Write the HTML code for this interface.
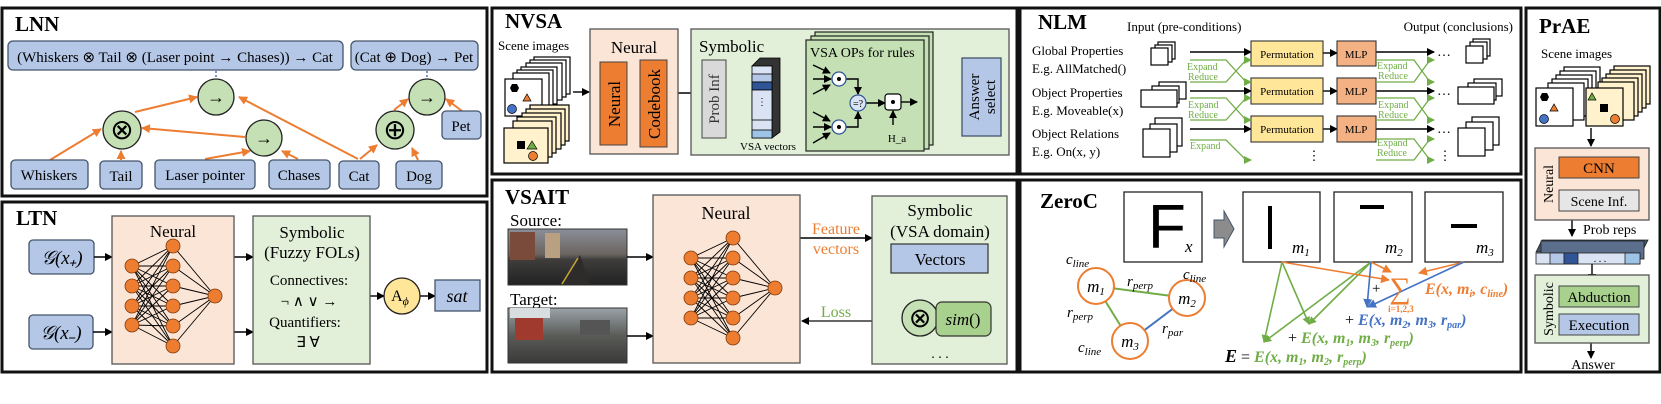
<!DOCTYPE html>
<html><head><meta charset="utf-8"><style>
html,body{margin:0;padding:0;background:#fff;}
svg{display:block;font-family:"Liberation Serif",serif;}
.t{font-weight:bold;font-size:21px;}
.bb{fill:#b4c7e7;stroke:#44546a;stroke-width:1.3;}
.gc{fill:#c5e0b4;stroke:#222;stroke-width:1.3;}
.oa{stroke:#ed7d31;stroke-width:2;fill:none;}
.ka{stroke:#000;stroke-width:1.4;fill:none;}
.ga{stroke:#70ad47;stroke-width:1.3;fill:none;}
.nn{stroke:#000;stroke-width:0.9;fill:none;}
.nd{fill:#ed7d31;stroke:#843c0c;stroke-width:0.8;}
.card{fill:#fff;stroke:#000;stroke-width:1.2;}
.ccard{fill:#fff2cc;stroke:#000;stroke-width:1.2;}
.it{font-style:italic;}
</style></head><body>
<svg width="1661" height="404" viewBox="0 0 1661 404" xmlns="http://www.w3.org/2000/svg">
<defs>
<marker id="ak" markerWidth="8" markerHeight="8" refX="7" refY="4" orient="auto" markerUnits="userSpaceOnUse"><path d="M0,0L8,4L0,8z" fill="#000"/></marker>
<marker id="ao" markerWidth="9" markerHeight="9" refX="8" refY="4.5" orient="auto" markerUnits="userSpaceOnUse"><path d="M0,0L9,4.5L0,9z" fill="#ed7d31"/></marker>
<marker id="ag" markerWidth="8" markerHeight="8" refX="7" refY="4" orient="auto" markerUnits="userSpaceOnUse"><path d="M0,0L8,4L0,8z" fill="#70ad47"/></marker>
<marker id="ab" markerWidth="9" markerHeight="9" refX="8" refY="4.5" orient="auto" markerUnits="userSpaceOnUse"><path d="M0,0L9,4.5L0,9z" fill="#4472c4"/></marker>
</defs>

<!-- panel borders -->
<g fill="none" stroke="#111" stroke-width="3">
<rect x="2" y="8" width="485" height="188"/>
<rect x="2" y="202" width="485" height="170"/>
<rect x="492" y="8" width="525" height="166"/>
<rect x="492" y="180" width="525" height="192"/>
<rect x="1020" y="8" width="501" height="166"/>
<rect x="1020" y="180" width="501" height="192"/>
<rect x="1526" y="8" width="134" height="364"/>
</g>

<!-- ===== LNN ===== -->
<text x="15" y="31" class="t">LNN</text>
<rect x="8" y="41" width="335" height="29" rx="5" class="bb"/>
<text x="175" y="62" font-size="15" text-anchor="middle">(Whiskers ⊗ Tail ⊗ (Laser point → Chases)) → Cat</text>
<rect x="351" y="41" width="127" height="29" rx="5" class="bb"/>
<text x="414" y="62" font-size="15" text-anchor="middle">(Cat ⊕ Dog) → Pet</text>
<g stroke="#4472c4" stroke-width="1.5" stroke-dasharray="2,2"><line x1="216" y1="71" x2="216" y2="79"/><line x1="427" y1="71" x2="427" y2="79"/></g>
<g class="oa">
<line x1="50" y1="160" x2="101" y2="129" marker-end="url(#ao)"/>
<line x1="121" y1="160" x2="121" y2="151" marker-end="url(#ao)"/>
<line x1="135" y1="112" x2="197" y2="97" marker-end="url(#ao)"/>
<line x1="205" y1="159" x2="250" y2="151" marker-end="url(#ao)"/>
<line x1="298" y1="159" x2="282" y2="151" marker-end="url(#ao)"/>
<line x1="245" y1="137" x2="142" y2="128" marker-end="url(#ao)"/>
<line x1="358" y1="159" x2="239" y2="97" marker-end="url(#ao)"/>
<line x1="360" y1="159" x2="377" y2="145" marker-end="url(#ao)"/>
<line x1="418" y1="160" x2="412" y2="148" marker-end="url(#ao)"/>
<line x1="394" y1="110" x2="408" y2="99" marker-end="url(#ao)"/>
<line x1="462" y1="111" x2="446" y2="99" marker-end="url(#ao)"/>
</g>
<circle cx="216" cy="97" r="18" class="gc"/><text x="216" y="103" font-size="18" text-anchor="middle">→</text>
<circle cx="122" cy="130" r="19" class="gc"/><text x="122" y="139" font-size="28" text-anchor="middle">⊗</text>
<circle cx="264" cy="138" r="18" class="gc"/><text x="264" y="144" font-size="18" text-anchor="middle">→</text>
<circle cx="395" cy="130" r="19" class="gc"/><text x="395" y="139" font-size="28" text-anchor="middle">⊕</text>
<circle cx="427" cy="97" r="18" class="gc"/><text x="427" y="103" font-size="18" text-anchor="middle">→</text>
<g font-size="15" text-anchor="middle">
<rect x="11" y="160" width="77" height="29" rx="4" class="bb"/><text x="49" y="180">Whiskers</text>
<rect x="100" y="161" width="42" height="28" rx="4" class="bb"/><text x="121" y="181">Tail</text>
<rect x="155" y="160" width="100" height="29" rx="4" class="bb"/><text x="205" y="180">Laser pointer</text>
<rect x="269" y="160" width="61" height="29" rx="4" class="bb"/><text x="299" y="180">Chases</text>
<rect x="339" y="161" width="40" height="28" rx="4" class="bb"/><text x="359" y="181">Cat</text>
<rect x="396" y="161" width="46" height="28" rx="4" class="bb"/><text x="419" y="181">Dog</text>
<rect x="442" y="111" width="39" height="28" rx="4" class="bb"/><text x="461" y="131">Pet</text>
</g>

<!-- ===== LTN ===== -->
<text x="16" y="225" class="t">LTN</text>
<rect x="29" y="240" width="65" height="34" rx="4" class="bb"/>
<text x="62" y="264" font-size="19" text-anchor="middle" class="it">𝒢(x₊)</text>
<rect x="29" y="315" width="64" height="34" rx="4" class="bb"/>
<text x="61" y="339" font-size="19" text-anchor="middle" class="it">𝒢(x₋)</text>
<g class="ka"><line x1="94" y1="257" x2="112" y2="257" marker-end="url(#ak)"/><line x1="93" y1="332" x2="112" y2="332" marker-end="url(#ak)"/>
<line x1="234" y1="257" x2="253" y2="257" marker-end="url(#ak)"/><line x1="234" y1="332" x2="253" y2="332" marker-end="url(#ak)"/>
<line x1="370" y1="296" x2="384" y2="296" marker-end="url(#ak)"/><line x1="420" y1="296" x2="435" y2="296" marker-end="url(#ak)"/></g>
<rect x="112" y="216" width="122" height="148" fill="#fbe5d6" stroke="#555" stroke-width="1.3"/>
<text x="173" y="237" font-size="17" text-anchor="middle">Neural</text>
<path class="nn" d="M132 266L173 246M132 266L173 266M132 266L173 286M132 266L173 306M132 266L173 326M132 266L173 346M132 286L173 246M132 286L173 266M132 286L173 286M132 286L173 306M132 286L173 326M132 286L173 346M132 306L173 246M132 306L173 266M132 306L173 286M132 306L173 306M132 306L173 326M132 306L173 346M132 325L173 246M132 325L173 266M132 325L173 286M132 325L173 306M132 325L173 326M132 325L173 346M173 246L215 296M173 266L215 296M173 286L215 296M173 306L215 296M173 326L215 296M173 346L215 296"/>
<g class="nd"><circle cx="132" cy="266" r="7"/><circle cx="132" cy="286" r="7"/><circle cx="132" cy="306" r="7"/><circle cx="132" cy="325" r="7"/>
<circle cx="173" cy="246" r="7"/><circle cx="173" cy="266" r="7"/><circle cx="173" cy="286" r="7"/><circle cx="173" cy="306" r="7"/><circle cx="173" cy="326" r="7"/><circle cx="173" cy="346" r="7"/><circle cx="215" cy="296" r="7"/></g>
<rect x="253" y="216" width="117" height="148" fill="#e2f0d9" stroke="#555" stroke-width="1.3"/>
<g font-size="17" text-anchor="middle"><text x="312" y="238">Symbolic</text><text x="312" y="258">(Fuzzy FOLs)</text></g>
<g font-size="15" text-anchor="middle"><text x="309" y="285">Connectives:</text><text x="309" y="306">¬  ∧  ∨  →</text><text x="305" y="327">Quantifiers:</text><text x="308" y="347">∃ ∀</text></g>
<circle cx="402" cy="296" r="18" fill="#ffe699" stroke="#222" stroke-width="1.3"/>
<text x="400" y="301" font-size="16" text-anchor="middle">A<tspan font-size="12" dy="4" class="it">ϕ</tspan></text>
<rect x="435" y="280" width="45" height="31" class="bb"/>
<text x="457" y="302" font-size="18" text-anchor="middle" class="it">sat</text>

<!-- ===== NVSA ===== -->
<text x="505" y="28" class="t">NVSA</text>
<text x="498" y="50" font-size="13">Scene images</text>
<g>
<rect x="534" y="57" width="36" height="37" class="card"/><rect x="530" y="60" width="36" height="37" class="card"/><rect x="526" y="63" width="36" height="37" class="card"/><rect x="521" y="67" width="36" height="37" class="card"/><rect x="517" y="70" width="36" height="37" class="card"/><rect x="513" y="73" width="36" height="37" class="card"/><rect x="505" y="79" width="37" height="37" class="card"/>
<polygon points="512,84 517,84 519,88 517,92 512,92 510,88" fill="#000"/><polygon points="523,101 527,94 531,101" fill="#ed7d31" stroke="#000" stroke-width="0.7"/><circle cx="512" cy="109" r="4.5" fill="#4472c4" stroke="#000" stroke-width="0.7"/>
<rect x="530" y="105" width="39" height="36" class="ccard"/><rect x="526" y="109" width="39" height="36" class="ccard"/><rect x="522" y="113" width="39" height="36" class="ccard"/><rect x="517" y="117" width="39" height="36" class="ccard"/><rect x="513" y="121" width="39" height="36" class="ccard"/><rect x="504" y="128" width="44" height="35" class="ccard"/>
<rect x="517" y="141" width="8" height="8" fill="#000"/><polygon points="527,149 532,141 537,149" fill="#70ad47" stroke="#000" stroke-width="0.7"/><circle cx="533" cy="156" r="4.5" fill="#ed7d31" stroke="#000" stroke-width="0.7"/>
</g>
<g class="ka"><line x1="573" y1="92" x2="589" y2="92" marker-end="url(#ak)"/><line x1="672" y1="93" x2="699" y2="93" marker-end="url(#ak)"/>
<line x1="731" y1="95" x2="746" y2="95" marker-end="url(#ak)"/><line x1="786" y1="95" x2="800" y2="95" marker-end="url(#ak)"/><line x1="932" y1="95" x2="958" y2="95" marker-end="url(#ak)"/></g>
<rect x="590" y="29" width="88" height="125" fill="#fbe5d6" stroke="#555" stroke-width="1.3"/>
<text x="634" y="53" font-size="17" text-anchor="middle">Neural</text>
<rect x="600" y="62" width="27" height="83" fill="#ed7d31" stroke="#444" stroke-width="1"/>
<text transform="translate(620,104) rotate(-90)" font-size="17" text-anchor="middle">Neural</text>
<rect x="640" y="60" width="27" height="87" fill="#ed7d31" stroke="#444" stroke-width="1"/>
<text transform="translate(660,104) rotate(-90)" font-size="17" text-anchor="middle">Codebook</text>
<rect x="691" y="29" width="318" height="126" fill="#e2f0d9" stroke="#555" stroke-width="1.3"/>
<text x="699" y="52" font-size="17">Symbolic</text>
<rect x="702" y="60" width="24" height="78" fill="#d9d9d9" stroke="#444" stroke-width="1"/>
<text transform="translate(719,99) rotate(-90)" font-size="15" text-anchor="middle" fill="#333">Prob Inf</text>
<g stroke="#000" stroke-width="0.8">
<polygon points="752,66 760,58 780,58 780,132 772,138 772,66" fill="#333"/>
<rect x="752" y="66" width="20" height="72" fill="#dae3f3"/>
<rect x="752" y="74" width="20" height="8" fill="#b4c7e7"/><rect x="752" y="82" width="20" height="8" fill="#2f5597"/><rect x="752" y="90" width="20" height="30" fill="#dae3f3"/><rect x="752" y="130" width="20" height="8" fill="#9dc3e6"/>
</g>
<text x="762" y="105" font-size="10" text-anchor="middle">⋮</text>
<text x="740" y="150" font-size="11">VSA vectors</text>
<rect x="815" y="32" width="118" height="113" fill="#c5e0b4" stroke="#222" stroke-width="1.2"/>
<rect x="811" y="36" width="118" height="113" fill="#c5e0b4" stroke="#222" stroke-width="1.2"/>
<rect x="806" y="40" width="118" height="111" fill="#c5e0b4" stroke="#222" stroke-width="1.2"/>
<text x="810" y="57" font-size="14">VSA OPs for rules</text>
<g class="ka" stroke-width="1.1">
<path d="M813 65L830 73" marker-end="url(#ak)"/><path d="M813 79L831 79" marker-end="url(#ak)"/><path d="M813 94L830 85" marker-end="url(#ak)"/>
<path d="M813 112L830 121" marker-end="url(#ak)"/><path d="M813 127L831 127" marker-end="url(#ak)"/><path d="M813 143L830 133" marker-end="url(#ak)"/>
<path d="M846 79L858 79L858 94" marker-end="url(#ak)"/><path d="M846 127L858 127L858 112" marker-end="url(#ak)"/>
<path d="M866 103L885 103" marker-end="url(#ak)"/><path d="M901 102L917 102" marker-end="url(#ak)"/><path d="M893 125L893 111" marker-end="url(#ak)"/>
</g>
<circle cx="839" cy="79" r="7" fill="#fff" stroke="#2f5597" stroke-width="1.3"/><circle cx="839" cy="79" r="2" fill="#000"/>
<circle cx="839" cy="127" r="7" fill="#fff" stroke="#2f5597" stroke-width="1.3"/><circle cx="839" cy="127" r="2" fill="#000"/>
<circle cx="858" cy="103" r="8" fill="#dae3f3" stroke="#2f5597" stroke-width="1.2"/><text x="858" y="107" font-size="10" text-anchor="middle">=?</text>
<rect x="885" y="94" width="16" height="16" rx="3" fill="#fff" stroke="#000" stroke-width="1.2"/><circle cx="893" cy="102" r="2" fill="#000"/>
<text x="897" y="142" font-size="11" text-anchor="middle">H_a</text>
<rect x="962" y="58" width="39" height="78" fill="#b4c7e7" stroke="#44546a" stroke-width="1.3"/>
<text transform="translate(979,97) rotate(-90)" font-size="15" text-anchor="middle">Answer</text>
<text transform="translate(995,97) rotate(-90)" font-size="15" text-anchor="middle">select</text>

<!-- ===== VSAIT ===== -->
<text x="505" y="204" class="t">VSAIT</text>
<text x="510" y="226" font-size="17">Source:</text>
<text x="510" y="305" font-size="17">Target:</text>
<defs>
<linearGradient id="ph1" x1="0" y1="0" x2="0" y2="1"><stop offset="0" stop-color="#8a8f99"/><stop offset="0.45" stop-color="#6b6560"/><stop offset="0.55" stop-color="#3e3d3c"/><stop offset="1" stop-color="#222"/></linearGradient>
<linearGradient id="ph2" x1="0" y1="0" x2="0" y2="1"><stop offset="0" stop-color="#9aa3a8"/><stop offset="0.5" stop-color="#5a5c58"/><stop offset="1" stop-color="#3a3a38"/></linearGradient>
</defs>
<rect x="508" y="229" width="119" height="56" fill="url(#ph1)" stroke="#333"/>
<rect x="510" y="232" width="25" height="28" fill="#7a4a3a"/><rect x="545" y="233" width="15" height="25" fill="#b9a080"/><path d="M560 285L580 255L590 285" fill="#2d2c2a"/><path d="M562 284L578 258" stroke="#c9a636" stroke-width="1.5"/>
<rect x="508" y="308" width="119" height="55" fill="url(#ph2)" stroke="#333"/>
<rect x="515" y="318" width="28" height="22" fill="#a03a2e"/><rect x="510" y="308" width="40" height="10" fill="#d8dde0"/><rect x="580" y="320" width="30" height="15" fill="#555"/>
<g class="ka"><line x1="627" y1="257" x2="653" y2="257" marker-end="url(#ak)"/><line x1="627" y1="336" x2="653" y2="336" marker-end="url(#ak)"/>
<line x1="800" y1="238" x2="872" y2="238" marker-end="url(#ak)"/><line x1="872" y1="321" x2="802" y2="321" marker-end="url(#ak)" stroke="#333"/>
<line x1="941" y1="280" x2="941" y2="297" marker-end="url(#ak)"/></g>
<rect x="653" y="195" width="147" height="168" fill="#fbe5d6" stroke="#555" stroke-width="1.3"/>
<text x="726" y="219" font-size="18" text-anchor="middle">Neural</text>
<path class="nn" d="M691 258L733 238M691 258L733 258M691 258L733 278M691 258L733 298M691 258L733 318M691 258L733 338M691 278L733 238M691 278L733 258M691 278L733 278M691 278L733 298M691 278L733 318M691 278L733 338M691 298L733 238M691 298L733 258M691 298L733 278M691 298L733 298M691 298L733 318M691 298L733 338M691 318L733 238M691 318L733 258M691 318L733 278M691 318L733 298M691 318L733 318M691 318L733 338M733 238L775 288M733 258L775 288M733 278L775 288M733 298L775 288M733 318L775 288M733 338L775 288"/>
<g class="nd"><circle cx="691" cy="258" r="7"/><circle cx="691" cy="278" r="7"/><circle cx="691" cy="298" r="7"/><circle cx="691" cy="318" r="7"/>
<circle cx="733" cy="238" r="7"/><circle cx="733" cy="258" r="7"/><circle cx="733" cy="278" r="7"/><circle cx="733" cy="298" r="7"/><circle cx="733" cy="318" r="7"/><circle cx="733" cy="338" r="7"/><circle cx="775" cy="288" r="7"/></g>
<text x="836" y="234" font-size="16" fill="#ed7d31" text-anchor="middle">Feature</text>
<text x="836" y="254" font-size="16" fill="#ed7d31" text-anchor="middle">vectors</text>
<text x="836" y="317" font-size="16" fill="#70ad47" text-anchor="middle">Loss</text>
<rect x="872" y="196" width="135" height="168" fill="#e2f0d9" stroke="#555" stroke-width="1.3"/>
<g font-size="17" text-anchor="middle"><text x="940" y="216">Symbolic</text><text x="940" y="237">(VSA domain)</text></g>
<rect x="891" y="244" width="97" height="29" fill="#b4c7e7" stroke="#333" stroke-width="1.2"/>
<text x="940" y="265" font-size="17" text-anchor="middle">Vectors</text>
<circle cx="920" cy="318" r="18" class="gc"/><text x="920" y="327" font-size="27" text-anchor="middle">⊗</text>
<rect x="936" y="302" width="55" height="34" rx="6" fill="#a9d18e" stroke="#333" stroke-width="1.2"/>
<text x="963" y="325" font-size="17" text-anchor="middle"><tspan class="it">sim</tspan>()</text>
<text x="940" y="358" font-size="14" text-anchor="middle">. . .</text>

<!-- ===== NLM ===== -->
<text x="1038" y="29" class="t">NLM</text>
<text x="1127" y="31" font-size="13">Input (pre-conditions)</text>
<text x="1513" y="31" font-size="13" text-anchor="end">Output (conclusions)</text>
<g font-size="13"><text x="1032" y="55">Global Properties</text><text x="1032" y="73">E.g. AllMatched()</text>
<text x="1032" y="97">Object Properties</text><text x="1032" y="115">E.g. Moveable(x)</text>
<text x="1032" y="138">Object Relations</text><text x="1032" y="156">E.g. On(x, y)</text></g>
<g class="card">
<rect x="1158" y="42" width="17" height="17"/><rect x="1155" y="45" width="17" height="17"/><rect x="1151" y="48" width="17" height="17"/>
<rect x="1159" y="82" width="27" height="17"/><rect x="1152" y="86" width="27" height="17"/><rect x="1141" y="90" width="36" height="17"/>
<rect x="1155" y="118" width="27" height="28"/><rect x="1150" y="124" width="27" height="28"/><rect x="1143" y="129" width="27" height="28"/>
<rect x="1473" y="39" width="17" height="17"/><rect x="1470" y="42" width="17" height="17"/><rect x="1466" y="46" width="17" height="17"/>
<rect x="1474" y="79" width="28" height="17"/><rect x="1468" y="83" width="28" height="17"/><rect x="1458" y="87" width="36" height="17"/>
<rect x="1472" y="117" width="27" height="28"/><rect x="1466" y="122" width="27" height="28"/><rect x="1458" y="128" width="27" height="28"/>
</g>
<g class="ka"><line x1="1190" y1="52" x2="1251" y2="52" marker-end="url(#ak)"/><line x1="1190" y1="91" x2="1251" y2="91" marker-end="url(#ak)"/><line x1="1190" y1="129" x2="1251" y2="129" marker-end="url(#ak)"/>
<line x1="1323" y1="53" x2="1337" y2="53" marker-end="url(#ak)"/><line x1="1323" y1="91" x2="1337" y2="91" marker-end="url(#ak)"/><line x1="1323" y1="129" x2="1337" y2="129" marker-end="url(#ak)"/>
<line x1="1376" y1="52" x2="1434" y2="52" marker-end="url(#ak)"/><line x1="1376" y1="91" x2="1434" y2="91" marker-end="url(#ak)"/><line x1="1376" y1="129" x2="1434" y2="129" marker-end="url(#ak)"/></g>
<g font-size="14"><text x="1437" y="56">…</text><text x="1437" y="95">…</text><text x="1437" y="133">…</text></g>
<g fill="#ffe699" stroke="#333" stroke-width="1.1"><rect x="1251" y="41" width="72" height="25"/><rect x="1251" y="78" width="72" height="26"/><rect x="1251" y="116" width="72" height="26"/></g>
<g fill="#f4b183" stroke="#333" stroke-width="1.1"><rect x="1337" y="41" width="39" height="25"/><rect x="1337" y="78" width="39" height="26"/><rect x="1337" y="116" width="39" height="26"/></g>
<g font-size="11" text-anchor="middle"><text x="1287" y="58">Permutation</text><text x="1287" y="95">Permutation</text><text x="1287" y="133">Permutation</text>
<text x="1356" y="58">MLP</text><text x="1356" y="95">MLP</text><text x="1356" y="133">MLP</text></g>
<g class="ga">
<path d="M1190 60L1226 60L1246 82L1251 82" marker-end="url(#ag)"/><path d="M1190 82L1226 82L1246 60L1251 60" marker-end="url(#ag)"/>
<path d="M1190 98L1226 98L1246 120L1251 120" marker-end="url(#ag)"/><path d="M1190 120L1226 120L1246 98L1251 98" marker-end="url(#ag)"/>
<path d="M1190 140L1226 140L1246 160L1251 160" marker-end="url(#ag)"/>
<path d="M1376 60L1414 60L1430 82L1434 82" marker-end="url(#ag)"/><path d="M1376 82L1414 82L1430 60L1434 60" marker-end="url(#ag)"/>
<path d="M1376 98L1414 98L1430 120L1434 120" marker-end="url(#ag)"/><path d="M1376 120L1414 120L1430 98L1434 98" marker-end="url(#ag)"/>
<path d="M1376 139L1414 139L1430 160L1434 160" marker-end="url(#ag)"/><path d="M1376 160L1414 160L1430 139L1434 139" marker-end="url(#ag)"/>
</g>
<g font-size="10" fill="#70ad47"><text x="1187" y="70">Expand</text><text x="1188" y="80">Reduce</text>
<text x="1188" y="108">Expand</text><text x="1188" y="118">Reduce</text><text x="1190" y="149">Expand</text>
<text x="1377" y="69">Expand</text><text x="1378" y="79">Reduce</text><text x="1378" y="108">Expand</text><text x="1378" y="118">Reduce</text>
<text x="1377" y="146">Expand</text><text x="1377" y="156">Reduce</text></g>
<g font-size="13" text-anchor="middle"><text x="1314" y="160">⋮</text><text x="1445" y="160">⋮</text></g>

<!-- ===== ZeroC ===== -->
<text x="1040" y="208" class="t">ZeroC</text>
<g fill="#fff" stroke="#222" stroke-width="1.3">
<rect x="1124" y="192" width="78" height="70"/><rect x="1243" y="192" width="77" height="70"/><rect x="1334" y="192" width="78" height="70"/><rect x="1425" y="192" width="78" height="70"/></g>
<text x="1148" y="248" font-size="62" font-family="Liberation Sans, sans-serif">F</text>
<g font-size="17" class="it"><text x="1185" y="252">x</text><text x="1292" y="253">m<tspan font-size="11" dy="3">1</tspan></text><text x="1385" y="253">m<tspan font-size="11" dy="3">2</tspan></text><text x="1476" y="253">m<tspan font-size="11" dy="3">3</tspan></text></g>
<polygon points="1214,220 1224,220 1224,211 1234,229 1224,247 1224,238 1214,238" fill="#8c8c8c" stroke="#44546a" stroke-width="1"/>
<rect x="1268" y="206" width="4" height="43" fill="#000"/><rect x="1360" y="205" width="24" height="4" fill="#000"/><rect x="1451" y="224" width="26" height="4" fill="#000"/>
<g stroke-width="2"><line x1="1096" y1="286" x2="1187" y2="298" stroke="#70ad47"/><line x1="1096" y1="286" x2="1130" y2="341" stroke="#70ad47"/><line x1="1187" y1="298" x2="1130" y2="341" stroke="#4472c4"/></g>
<g fill="#fff" stroke="#ed7d31" stroke-width="2"><circle cx="1096" cy="286" r="18"/><circle cx="1187" cy="298" r="18"/><circle cx="1130" cy="341" r="18"/></g>
<g font-size="17" class="it" text-anchor="middle"><text x="1096" y="292">m<tspan font-size="11" dy="3">1</tspan></text><text x="1187" y="304">m<tspan font-size="11" dy="3">2</tspan></text><text x="1130" y="347">m<tspan font-size="11" dy="3">3</tspan></text></g>
<g font-size="15" class="it"><text x="1066" y="264">c<tspan font-size="11" dy="3">line</tspan></text><text x="1183" y="279">c<tspan font-size="11" dy="3">line</tspan></text><text x="1078" y="352">c<tspan font-size="11" dy="3">line</tspan></text>
<text x="1127" y="286">r<tspan font-size="11" dy="3">perp</tspan></text><text x="1067" y="317">r<tspan font-size="11" dy="3">perp</tspan></text><text x="1162" y="333">r<tspan font-size="11" dy="3">par</tspan></text></g>
<g stroke="#70ad47" stroke-width="1.6" fill="none">
<line x1="1282" y1="262" x2="1264" y2="342" marker-end="url(#ag)"/><line x1="1282" y1="262" x2="1309" y2="324" marker-end="url(#ag)"/>
<line x1="1371" y1="262" x2="1264" y2="342" marker-end="url(#ag)"/><line x1="1371" y1="262" x2="1309" y2="324" marker-end="url(#ag)"/></g>
<g stroke="#ed7d31" stroke-width="1.6" fill="none">
<line x1="1282" y1="262" x2="1389" y2="280" marker-end="url(#ao)"/><line x1="1371" y1="262" x2="1391" y2="272" marker-end="url(#ao)"/><line x1="1464" y1="262" x2="1419" y2="273" marker-end="url(#ao)"/></g>
<g stroke="#4472c4" stroke-width="1.6" fill="none">
<line x1="1371" y1="262" x2="1367" y2="307" marker-end="url(#ab)"/><line x1="1464" y1="262" x2="1368" y2="307" marker-end="url(#ab)"/></g>
<text x="1400" y="298" font-size="30" fill="#ed7d31" text-anchor="middle">∑</text>
<text x="1401" y="312" font-size="9" fill="#ed7d31" text-anchor="middle" font-weight="bold">i=1,2,3</text>
<text x="1372" y="293" font-size="15">+</text>
<text x="1425" y="294" font-size="16" fill="#ed7d31" class="it" font-weight="bold">E(x, m<tspan font-size="10" dy="3">i</tspan><tspan dy="-3">, c</tspan><tspan font-size="10" dy="3">line</tspan><tspan dy="-3">)</tspan></text>
<text x="1345" y="325" font-size="16" fill="#4472c4" class="it" font-weight="bold"><tspan fill="#000" font-style="normal" font-weight="normal">+ </tspan>E(x, m<tspan font-size="10" dy="3">2</tspan><tspan dy="-3">, m</tspan><tspan font-size="10" dy="3">3</tspan><tspan dy="-3">, r</tspan><tspan font-size="10" dy="3">par</tspan><tspan dy="-3">)</tspan></text>
<text x="1288" y="343" font-size="16" fill="#70ad47" class="it" font-weight="bold"><tspan fill="#000" font-style="normal" font-weight="normal">+ </tspan>E(x, m<tspan font-size="10" dy="3">1</tspan><tspan dy="-3">, m</tspan><tspan font-size="10" dy="3">3</tspan><tspan dy="-3">, r</tspan><tspan font-size="10" dy="3">perp</tspan><tspan dy="-3">)</tspan></text>
<text x="1225" y="362" font-size="16" fill="#70ad47" class="it" font-weight="bold"><tspan fill="#000" font-size="18">E</tspan><tspan fill="#000" font-style="normal" font-weight="normal"> = </tspan>E(x, m<tspan font-size="10" dy="3">1</tspan><tspan dy="-3">, m</tspan><tspan font-size="10" dy="3">2</tspan><tspan dy="-3">, r</tspan><tspan font-size="10" dy="3">perp</tspan><tspan dy="-3">)</tspan></text>

<!-- ===== PrAE ===== -->
<text x="1539" y="33" class="t">PrAE</text>
<text x="1541" y="58" font-size="13">Scene images</text>
<g>
<rect x="1564" y="67" width="36" height="37" class="card"/><rect x="1560" y="71" width="36" height="37" class="card"/><rect x="1556" y="75" width="36" height="37" class="card"/><rect x="1552" y="79" width="36" height="37" class="card"/><rect x="1548" y="83" width="36" height="37" class="card"/><rect x="1536" y="88" width="37" height="38" class="card"/>
<polygon points="1542,93 1547,93 1549,97 1547,101 1542,101 1540,97" fill="#000"/><polygon points="1550,111 1554,104 1558,111" fill="#ed7d31" stroke="#000" stroke-width="0.7"/><circle cx="1544" cy="119" r="4.5" fill="#4472c4" stroke="#000" stroke-width="0.7"/>
<rect x="1614" y="66" width="36" height="38" class="ccard"/><rect x="1610" y="70" width="36" height="38" class="ccard"/><rect x="1606" y="74" width="36" height="38" class="ccard"/><rect x="1602" y="78" width="36" height="38" class="ccard"/><rect x="1598" y="82" width="36" height="38" class="ccard"/><rect x="1586" y="88" width="37" height="38" class="ccard"/>
<polygon points="1588,100 1592,93 1596,100" fill="#70ad47" stroke="#000" stroke-width="0.7"/><rect x="1600" y="104" width="8" height="8" fill="#000"/><circle cx="1615" cy="119" r="4.5" fill="#ed7d31" stroke="#000" stroke-width="0.7"/>
</g>
<g class="ka"><line x1="1591" y1="128" x2="1591" y2="146" marker-end="url(#ak)"/><line x1="1572" y1="220" x2="1572" y2="236" marker-end="url(#ak)"/>
<line x1="1592" y1="264" x2="1592" y2="281" marker-end="url(#ak)"/><line x1="1591" y1="343" x2="1591" y2="358" marker-end="url(#ak)"/></g>
<rect x="1535" y="148" width="114" height="72" fill="#fbe5d6" stroke="#555" stroke-width="1.3"/>
<text transform="translate(1553,184) rotate(-90)" font-size="14" text-anchor="middle">Neural</text>
<rect x="1559" y="157" width="80" height="21" fill="#ed7d31" stroke="#444"/>
<text x="1599" y="173" font-size="15" text-anchor="middle">CNN</text>
<rect x="1559" y="190" width="80" height="21" fill="#e7e6e6" stroke="#444"/>
<text x="1599" y="206" font-size="14" text-anchor="middle">Scene Inf.</text>
<text x="1583" y="234" font-size="14">Prob reps</text>
<g stroke="#222" stroke-width="0.8">
<polygon points="1536,252 1542,240 1648,240 1642,252" fill="#44546a"/>
<rect x="1541" y="241" width="103" height="18" fill="#5b6f8c"/>
<rect x="1536" y="253" width="104" height="11" fill="#dae3f3"/>
<rect x="1550" y="253" width="14" height="11" fill="#b4c7e7"/><rect x="1564" y="253" width="14" height="11" fill="#2f5597"/><rect x="1625" y="253" width="15" height="11" fill="#9dc3e6"/>
</g>
<text x="1600" y="262" font-size="10" text-anchor="middle">. . .</text>
<rect x="1535" y="275" width="114" height="68" fill="#e2f0d9" stroke="#555" stroke-width="1.3"/>
<text transform="translate(1553,309) rotate(-90)" font-size="14" text-anchor="middle">Symbolic</text>
<rect x="1559" y="286" width="80" height="21" fill="#a9d18e" stroke="#444"/>
<text x="1599" y="302" font-size="15" text-anchor="middle">Abduction</text>
<rect x="1559" y="314" width="80" height="21" fill="#b4c7e7" stroke="#444"/>
<text x="1599" y="330" font-size="15" text-anchor="middle">Execution</text>
<text x="1593" y="369" font-size="14" text-anchor="middle">Answer</text>
</svg>
</body></html>
